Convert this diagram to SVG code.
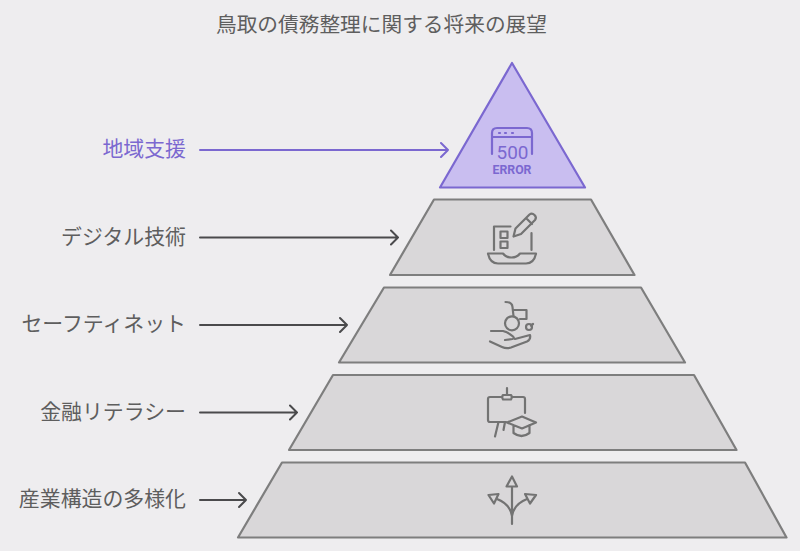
<svg xmlns="http://www.w3.org/2000/svg" width="800" height="551" viewBox="0 0 800 551">
<style>
text{font-family:"Noto Sans CJK JP","Liberation Sans",sans-serif;font-size:20.900px;fill:#5e5e5e}
.l{text-anchor:end}
.t{fill:#d9d7d9;stroke:#7e7e7e;stroke-width:2.200;stroke-linejoin:round}
.c{fill:none;stroke:#4a4a4c;stroke-width:2;stroke-linecap:round;stroke-linejoin:round}
.p{stroke:#7b68d0}
.i{fill:none;stroke:#737373;stroke-width:2.200;stroke-linecap:round;stroke-linejoin:round}
.ip{stroke:#7b68d0}
</style>
<rect width="800" height="551" fill="#eeedef"/>
<text id="title" x="381.500" y="31.500" text-anchor="middle" style="font-size:20.700px">鳥取の債務整理に関する将来の展望</text>
<g id="connectors">
<path class="c p" d="M200 150H448M441 143l7 7-7 7"/>
<path class="c" d="M200 237.500H398M391 230.500l7 7-7 7"/>
<path class="c" d="M200 325H347M340 318l7 7-7 7"/>
<path class="c" d="M200 412.500H297M290 405.500l7 7-7 7"/>
<path class="c" d="M200 500H246M239 493l7 7-7 7"/>
</g>
<g id="n1">
<polygon points="512,63 585,187.500 440,187.500" fill="#c9bef0" stroke="#7b68d0" stroke-width="2.200" stroke-linejoin="round"/>
<path class="i ip" d="M492 154V133q0-5 5-5h30q5 0 5 5v21M492 137H532"/>
<path class="i ip" d="M499 133h1M505 133h1M512 133h1"/>
<text x="496.500" y="158.500" textLength="32" lengthAdjust="spacingAndGlyphs" style="font-family:Roboto,sans-serif;font-size:18px;fill:#7b68d0">500</text>
<text x="492.500" y="174" textLength="39" lengthAdjust="spacingAndGlyphs" style="font-family:Roboto,sans-serif;font-size:12px;font-weight:700;fill:#7b68d0">ERROR</text>
<text class="l" x="186" y="156" style="fill:#7b68d0">地域支援</text>
</g>
<g id="n2">
<polygon class="t" points="434,199.500 591,199.500 634.500,275 390,275"/>
<path class="i" d="M510.500 226.500H494V250M531.500 233V250"/>
<path class="i" d="M500.500 231.500h7v6.500h-7zM500.500 241.500h7v6.500h-7z"/>
<path class="i" d="M513.500 236.500l2-8 14-14q2.500-2 5 .5t.5 5l-14 14zM526 218l6 6"/>
<path class="i" d="M488 253.500h15q3 4 8.500 4t8.500-4h16q-2 10-10 10h-28q-8 0-10-10z"/>
<text class="l" x="186" y="244">デジタル技術</text>
</g>
<g id="n3">
<polygon class="t" points="384,287.500 641,287.500 685,362.500 339,362.500"/>
<path class="i" d="M505.500 302q6.500 0 7 5l1 9M513 310h13.500v9h-6.500M533 324l-2 1.500"/>
<circle class="i" cx="512" cy="323.300" r="7"/>
<circle class="i" cx="529" cy="327" r="3"/>
<path class="i" d="M491 331h12q5 1 10 5.500q2 2-.5 2.500l-7.500 1M490 341.500l12 5.500q4.500 2 9 .5l16-6q4-2 3-6.500l-15 4"/>
<text class="l" x="186" y="331">セーフティネット</text>
</g>
<g id="n4">
<polygon class="t" points="333,375 694,375 736.500,450 289,450"/>
<path class="i" d="M507 388V395M503 395h8q1.500 2 0 4.500h-8q-1.500-2.500 0-4.500z"/>
<path class="i" d="M502 397H490q-2 0-2 2v21q0 2 2 2H506M512 397H523q2 0 2 2v14"/>
<path class="i" d="M498.500 422l-3.500 14.500M505 422l-1.500 8"/>
<path class="i" d="M507 422.500l15-6 14 6-14 6zM513.500 425v8q8 6 16 0v-8"/>
<text class="l" x="186" y="419">金融リテラシー</text>
</g>
<g id="n5">
<polygon class="t" points="282,462.500 745,462.500 786.500,537.500 238,537.500"/>
<path class="i" d="M512 524V486.500M506.500 486.500l5.500-10 5 10zM512 516q-2-12-15-17M488.500 495l10-1-4.500 9.500zM512 516q2-12 15-17M536 495l-11-1 5 9.500z"/>
<text class="l" x="186" y="506">産業構造の多様化</text>
</g>
</svg>
